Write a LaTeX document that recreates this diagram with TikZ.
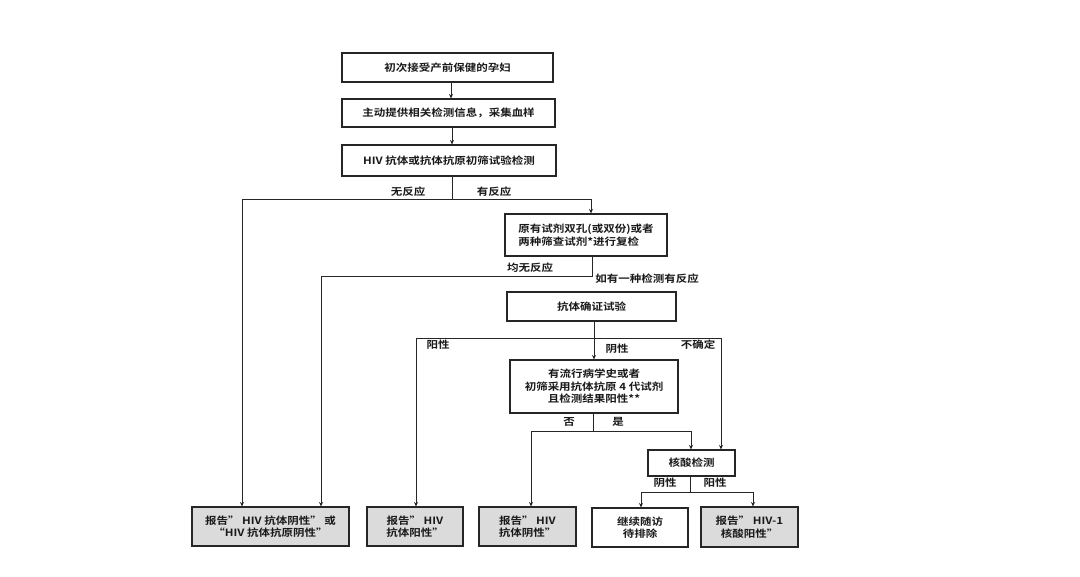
\documentclass[tikz,border=0pt]{standalone}
\usepackage{fontspec}
\setmainfont{Noto Sans CJK SC}[UprightFont=* Bold, FakeStretch=1.15]
\usetikzlibrary{arrows.meta}
\begin{document}
\begin{tikzpicture}[x=1pt,y=-1pt,
  box/.style={draw=black!85, line width=1.1pt, fill=white, inner sep=0pt,
    font=\fontsize{10}{12.5}\selectfont, text=black!90, align=center},
  gbox/.style={box, fill=black!14},
  lbl/.style={inner sep=0pt, font=\fontsize{10}{12}\selectfont, text=black!90},
  ln/.style={line width=1pt, draw=black!85},
  arr/.style={ln, -{Stealth[length=4.5pt,width=4pt]}}]
\useasboundingbox (0,0) rectangle (1080,577);
\fill[white] (0,0) rectangle (1080,577);

% boxes
\node[box, minimum width=211pt, minimum height=29pt] (b1) at (447.5,67.5) {初次接受产前保健的孕妇};
\node[box, minimum width=213pt, minimum height=28pt] (b2) at (448.5,113) {主动提供相关检测信息，采集血样};
\node[box, minimum width=214pt, minimum height=31pt] (b3) at (449,160.5) {HIV 抗体或抗体抗原初筛试验检测};
\node[box, minimum width=162pt, minimum height=42pt, align=left] (b4) at (586,235) {原有试剂双孔(或双份)或者\\两种筛查试剂*进行复检};
\node[box, minimum width=169pt, minimum height=29pt] (b5) at (591.5,306.5) {抗体确证试验};
\node[box, minimum width=168pt, minimum height=53pt] (b6) at (594,386.5) {有流行病学史或者\\初筛采用抗体抗原 4 代试剂\\且检测结果阳性**};
\node[box, minimum width=87pt, minimum height=26pt] (b7) at (691.5,463) {核酸检测};
\node[gbox, minimum width=157pt, minimum height=39pt] (bA) at (270.5,526.5) {报告” HIV 抗体阴性” 或\\“HIV 抗体抗原阴性”};
\node[gbox, minimum width=96pt, minimum height=39pt] (bB) at (415,526.5) {报告” HIV\\抗体阳性”};
\node[gbox, minimum width=97pt, minimum height=39pt] (bC) at (527.5,526.5) {报告” HIV\\抗体阴性”};
\node[box, minimum width=96pt, minimum height=39pt] (bD) at (640,527.5) {继续随访\\待排除};
\node[gbox, minimum width=97pt, minimum height=40pt] (bE) at (749.5,527) {报告” HIV-1\\核酸阳性”};

% junction coordinates
\coordinate (x1) at (451,0);
\coordinate (x2) at (452,0);
\coordinate (s3) at (452,200);
\coordinate (xa1) at (242,0);
\coordinate (x4) at (591,0);
\coordinate (s4) at (592,277);
\coordinate (xa2) at (321,0);
\coordinate (s5) at (594,339);
\coordinate (xb) at (416,0);
\coordinate (x7b) at (721,0);
\coordinate (s6) at (593,432);
\coordinate (xc) at (531,0);
\coordinate (x7a) at (691,0);
\coordinate (s7) at (690,492);
\coordinate (xd) at (641,0);
\coordinate (xe) at (753,0);

% connectors
\draw[arr] (b1.south -| x1) -- (b2.north -| x1);
\draw[arr] (b2.south -| x2) -- (b3.north -| x2);
\draw[ln] (b3.south -| s3) -- (s3);
\draw[arr] (s3) -- (s3 -| xa1) -- (bA.north -| xa1);
\draw[arr] (s3) -- (s3 -| x4) -- (b4.north -| x4);
\draw[arr] (b4.south -| s4) -- (s4) -- (s4 -| xa2) -- (bA.north -| xa2);
\draw[arr] (b5.south -| s5) -- (b6.north -| s5);
\draw[arr] (s5) -- (s5 -| xb) -- (bB.north -| xb);
\draw[arr] (s5) -- (s5 -| x7b) -- (b7.north -| x7b);
\draw[ln] (b6.south -| s6) -- (s6);
\draw[arr] (s6) -- (s6 -| xc) -- (bC.north -| xc);
\draw[arr] (s6) -- (s6 -| x7a) -- (b7.north -| x7a);
\draw[ln] (b7.south -| s7) -- (s7);
\draw[arr] (s7) -- (s7 -| xd) -- (bD.north -| xd);
\draw[arr] (s7) -- (s7 -| xe) -- (bE.north -| xe);

% labels
\node[lbl] (l1) at (408,192) {无反应};
\node[lbl] (l2) at (494,192) {有反应};
\node[lbl] (l3) at (530,268) {均无反应};
\node[lbl] (l4) at (647,279) {如有一种检测有反应};
\node[lbl] (l5) at (438,345) {阳性};
\node[lbl] (l6) at (617,349) {阴性};
\node[lbl] (l7) at (698,345) {不确定};
\node[lbl] (l8) at (569,422) {否};
\node[lbl] (l9) at (618,422) {是};
\node[lbl] (l10) at (665,483) {阴性};
\node[lbl] (l11) at (715,483) {阳性};
\end{tikzpicture}
\end{document}
